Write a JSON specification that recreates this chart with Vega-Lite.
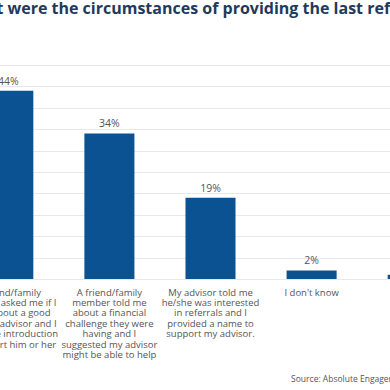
{
  "$schema": "https://vega.github.io/schema/vega-lite/v6.json",
  "autosize": {"type": "none"},
  "padding": {"left": -42, "top": 65, "right": -73, "bottom": 111},
  "width": 505,
  "height": 214,
  "background": "white",
  "title": {
    "text": "What were the circumstances of providing the last referral?",
    "anchor": "middle",
    "frame": "group",
    "limit": 2000,
    "font": "Open Sans",
    "fontSize": 16,
    "fontWeight": "bold",
    "color": "#1e3a5c",
    "baseline": "alphabetic",
    "offset": 35,
    "dx": -12
  },
  "data": {
    "values": [
      {"circumstance": "A friend/family|member asked me if I|knew about a good|financial advisor and I|made the introduction|to support him or her", "order": 1, "pct": 0.44},
      {"circumstance": "A friend/family|member told me|about a financial|challenge they were|having and I|suggested my advisor|might be able to help", "order": 2, "pct": 0.34},
      {"circumstance": "My advisor told me|he/she was interested|in referrals and I|provided a name to|support my advisor.", "order": 3, "pct": 0.19},
      {"circumstance": "I don't know", "order": 4, "pct": 0.02},
      {"circumstance": "Other", "order": 5, "pct": 0.01}
    ]
  },
  "encoding": {
    "x": {
      "field": "circumstance",
      "type": "nominal",
      "sort": {"field": "order"},
      "scale": {"paddingInner": 0.505, "paddingOuter": 0.25},
      "axis": {
        "labelAngle": 0,
        "labelExpr": "split(datum.label, '|')",
        "labelFont": "Open Sans",
        "labelFontSize": 9.5,
        "labelLineHeight": 10.4,
        "labelColor": "#555555",
        "labelPadding": 8,
        "labelBaseline": "top",
        "labelOverlap": false,
        "ticks": false,
        "domain": false,
        "title": "Source: Absolute Engagement",
        "titleFont": "Open Sans",
        "titleFontSize": 8.5,
        "titleFontWeight": "normal",
        "titleColor": "#555555",
        "titleAnchor": "end",
        "titleAlign": "right",
        "titleBaseline": "middle",
        "titleX": 451,
        "titleY": 99
      }
    },
    "y": {
      "field": "pct",
      "type": "quantitative",
      "scale": {"domain": [0, 0.5], "nice": false},
      "axis": {
        "values": [0, 0.05, 0.1, 0.15, 0.2, 0.25, 0.3, 0.35, 0.4, 0.45, 0.5],
        "labels": false,
        "ticks": false,
        "domain": false,
        "title": null,
        "grid": true,
        "gridColor": "#e8e8e8",
        "gridWidth": 1
      }
    }
  },
  "layer": [
    {"mark": {"type": "bar", "color": "#0a5291"}},
    {
      "mark": {"type": "text", "dy": -4, "font": "Open Sans", "fontSize": 10.5, "color": "#555555", "baseline": "bottom"},
      "encoding": {"text": {"field": "pct", "type": "quantitative", "format": ".0%"}}
    }
  ],
  "config": {"view": {"stroke": null}}
}
